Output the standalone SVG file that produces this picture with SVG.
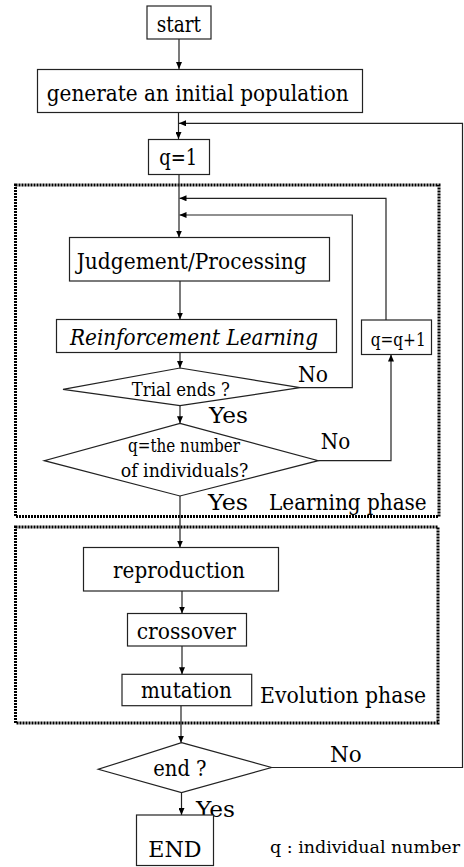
<svg xmlns="http://www.w3.org/2000/svg" width="464" height="867" viewBox="0 0 464 867" font-family="'DejaVu Serif', 'Liberation Serif', serif">
  <style>
    .box { fill: #fff; stroke: #222; stroke-width: 1.2; }
    .dia { fill: #fff; stroke: #222; stroke-width: 1.2; }
    .phase { fill: none; stroke: #000; stroke-width: 3; stroke-dasharray: 2 1; }
    .wire { fill: none; stroke: #222; stroke-width: 1.2; }
    text { fill: #000; font-size: 22.5px; }
    .sm { font-size: 18.2px; }
    .note { font-size: 17.5px; }
  </style>
  <defs>
    <marker id="arrow" viewBox="0 0 7 6" refX="7" refY="3" markerWidth="7" markerHeight="6" markerUnits="userSpaceOnUse" orient="auto">
      <path d="M0,0 L7,3 L0,6 z" fill="#000"/>
    </marker>
  </defs>

  <!-- phase frames -->
  <g id="learning-phase">
    <rect class="phase" x="15.5" y="185" width="423.5" height="331.5"/>
    <text x="269" y="510" textLength="157.7" lengthAdjust="spacingAndGlyphs">Learning phase</text>
  </g>
  <g id="evolution-phase">
    <rect class="phase" x="15.5" y="527" width="422.5" height="196"/>
    <text x="260" y="703.3" textLength="166" lengthAdjust="spacingAndGlyphs">Evolution phase</text>
  </g>

  <!-- connectors -->
  <g id="connectors">
    <line class="wire" x1="179" y1="39" x2="179" y2="69" marker-end="url(#arrow)"/>
    <line class="wire" x1="178.5" y1="113" x2="178.5" y2="139" marker-end="url(#arrow)"/>
    <polyline class="wire" points="271,767.5 462.5,767.5 462.5,123.3 179,123.3" marker-end="url(#arrow)"/>
    <line class="wire" x1="179" y1="174.5" x2="179" y2="237.5" marker-end="url(#arrow)"/>
    <polyline class="wire" points="386,320 386,198.3 179.5,198.3" marker-end="url(#arrow)"/>
    <polyline class="wire" points="300,387.7 352.3,387.7 352.3,215 179.5,215" marker-end="url(#arrow)"/>
    <line class="wire" x1="180" y1="281" x2="180" y2="319.5" marker-end="url(#arrow)"/>
    <line class="wire" x1="180" y1="352.5" x2="180" y2="368" marker-end="url(#arrow)"/>
    <line class="wire" x1="180" y1="405.7" x2="180" y2="423.3" marker-end="url(#arrow)"/>
    <polyline class="wire" points="318.3,460.7 391,460.7 391,354.5" marker-end="url(#arrow)"/>
    <line class="wire" x1="180" y1="496" x2="180" y2="547.5" marker-end="url(#arrow)"/>
    <line class="wire" x1="182" y1="591" x2="182" y2="613.5" marker-end="url(#arrow)"/>
    <line class="wire" x1="182" y1="646" x2="182" y2="674.3" marker-end="url(#arrow)"/>
    <line class="wire" x1="181" y1="705.7" x2="181" y2="742.7" marker-end="url(#arrow)"/>
    <line class="wire" x1="181.5" y1="792.7" x2="181.5" y2="815" marker-end="url(#arrow)"/>
    <text x="298" y="381.7" textLength="30" lengthAdjust="spacingAndGlyphs">No</text>
    <text x="209" y="422.7" textLength="39" lengthAdjust="spacingAndGlyphs">Yes</text>
    <text x="320.7" y="449.3" textLength="29.5" lengthAdjust="spacingAndGlyphs">No</text>
    <text x="208" y="510" textLength="40" lengthAdjust="spacingAndGlyphs">Yes</text>
    <text x="330" y="761.7" textLength="31.7" lengthAdjust="spacingAndGlyphs">No</text>
    <text x="196" y="816.7" textLength="39" lengthAdjust="spacingAndGlyphs">Yes</text>
  </g>

  <!-- nodes -->
  <g id="start">
    <rect class="box" x="147" y="6" width="64" height="33"/>
    <text x="156.7" y="32" textLength="44.3" lengthAdjust="spacingAndGlyphs">start</text>
  </g>
  <g id="init-population">
    <rect class="box" x="37.5" y="69.5" width="325" height="43"/>
    <text x="46.7" y="101" textLength="302" lengthAdjust="spacingAndGlyphs">generate an initial population</text>
  </g>
  <g id="q-init">
    <rect class="box" x="148.5" y="139.5" width="61" height="35"/>
    <text x="159.3" y="165" textLength="38" lengthAdjust="spacingAndGlyphs">q=1</text>
  </g>
  <g id="judgement">
    <rect class="box" x="69.5" y="237.5" width="260" height="43.5"/>
    <text x="76.7" y="269" textLength="230" lengthAdjust="spacingAndGlyphs">Judgement/Processing</text>
  </g>
  <g id="reinforcement">
    <rect class="box" x="56.5" y="319.5" width="280" height="33"/>
    <text x="70" y="345" font-style="italic" textLength="248" lengthAdjust="spacingAndGlyphs">Reinforcement Learning</text>
  </g>
  <g id="q-increment">
    <rect class="box" x="361.5" y="320" width="70" height="34.5"/>
    <text class="sm" x="370.7" y="345.7" textLength="55" lengthAdjust="spacingAndGlyphs">q=q+1</text>
  </g>
  <g id="trial-ends">
    <polygon class="dia" points="180,368 300,387.7 180,405.7 63,389.3"/>
    <text class="sm" x="131.7" y="396" textLength="98.3" lengthAdjust="spacingAndGlyphs">Trial ends ?</text>
  </g>
  <g id="all-individuals">
    <polygon class="dia" points="180,423.3 318.3,460.7 180,496 44.3,460.7"/>
    <text class="sm" x="128" y="451.7" textLength="112" lengthAdjust="spacingAndGlyphs">q=the number</text>
    <text class="sm" x="120.7" y="476.7" textLength="127.6" lengthAdjust="spacingAndGlyphs">of individuals?</text>
  </g>
  <g id="reproduction">
    <rect class="box" x="83.5" y="547.5" width="195" height="43.5"/>
    <text x="113" y="577.7" textLength="132" lengthAdjust="spacingAndGlyphs">reproduction</text>
  </g>
  <g id="crossover">
    <rect class="box" x="127.5" y="613.5" width="119" height="32.5"/>
    <text x="136.7" y="639.3" textLength="99.3" lengthAdjust="spacingAndGlyphs">crossover</text>
  </g>
  <g id="mutation">
    <rect class="box" x="122" y="674.3" width="129.7" height="31.4"/>
    <text x="141" y="698.3" textLength="90.7" lengthAdjust="spacingAndGlyphs">mutation</text>
  </g>
  <g id="end-check">
    <polygon class="dia" points="181.5,742.7 271.5,767.5 181.5,792.7 98.3,769.3"/>
    <text x="153.3" y="776" textLength="53.3" lengthAdjust="spacingAndGlyphs">end ?</text>
  </g>
  <g id="end">
    <rect class="box" x="136.5" y="815" width="77" height="50.5"/>
    <text x="148.3" y="856.7" textLength="53.3" lengthAdjust="spacingAndGlyphs">END</text>
  </g>
  <g id="legend">
    <text class="note" x="270" y="853" textLength="190" lengthAdjust="spacingAndGlyphs">q : individual number</text>
  </g>
</svg>
